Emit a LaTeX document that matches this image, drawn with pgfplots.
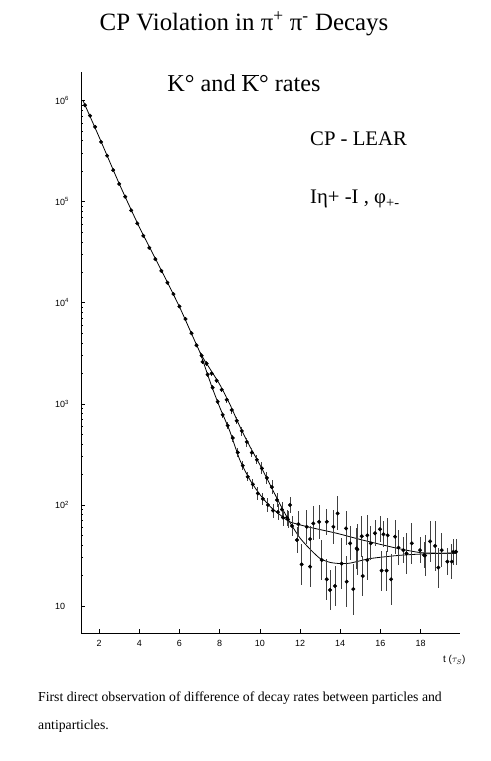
\documentclass[border=0pt]{standalone}
\usepackage{fontspec}
\setmainfont{Liberation Serif}
\newfontfamily\lsans{Liberation Sans}
\usepackage{pgfplots}
\pgfplotsset{compat=1.18}
\usepackage{pgfplotstable}

% common part, both rates overlap (t < 7)
\pgfplotstableread{
x y
1.3 9.0e5
1.55 7.1e5
1.8 5.5e5
2.1 3.9e5
2.4 2.85e5
2.7 2.05e5
3.0 1.50e5
3.3 1.12e5
3.6 8.2e4
3.9 6.1e4
4.2 4.6e4
4.5 3.5e4
4.8 2.7e4
5.1 2.07e4
5.4 1.58e4
5.7 1.22e4
6.0 9.2e3
6.3 6.9e3
6.6 5.0e3
6.85 3.8e3
}\common

% upper rate before the crossing
\pgfplotstableread{
x y ep em
7.1 3000 .05 .05
7.35 2500 .05 .05
7.6 2000 .05 .05
7.85 1700 .06 .06
8.1 1380 .06 .06
8.35 1100 .07 .07
8.6 870 .08 .08
8.85 680 .08 .08
9.1 540 .1 .1
9.35 420 .1 .1
9.6 330 .12 .1
9.85 280 .12 .1
10.1 230 .15 .13
10.35 185 .15 .13
10.6 150 .17 .15
10.85 112 .17 .15
11.1 90 .2 .17
11.35 75 .2 .17
11.6 62 .25 .2
11.85 45 .35 .26
12.08 25.8 .58 .37
12.5 24.5 .58 .37
12.5 46 .35 .26
13.08 28.5 .58 .37
13.33 18.4 .58 .37
13.49 14.4 .58 .37
13.74 15.8 .58 .37
14.07 26.3 .78 .44
14.32 17.4 .78 .44
14.65 14.7 .78 .44
14.85 36.3 .78 .44
15.12 19.8 .58 .37
15.35 28.5 .58 .37
16.06 22.4 .58 .37
16.31 22.4 .58 .37
16.53 18.4 .78 .44
17.3 33.1 .58 .37
18.22 31.6 .58 .37
18.88 24.0 .58 .37
}\rateA

% lower rate before the crossing
\pgfplotstableread{
x y ep em
7.15 2600 .05 .05
7.4 1950 .05 .05
7.65 1450 .06 .06
7.9 1050 .06 .06
8.15 780 .07 .07
8.4 610 .08 .08
8.65 460 .08 .08
8.9 330 .1 .1
9.15 245 .1 .1
9.4 190 .12 .1
9.65 160 .12 .1
9.9 130 .15 .13
10.15 115 .15 .13
10.4 100 .17 .15
10.65 88 .17 .15
10.9 85 .2 .17
11.15 75 .2 .17
11.4 72 .2 .17
11.5 100 .2 .17
11.92 64.6 .35 .26
12.33 60.8 .48 .32
12.66 65.6 .48 .32
12.95 68.1 .48 .32
13.33 68.1 .35 .26
13.66 60.8 .48 .32
13.87 82.4 .48 .32
14.29 58.6 .48 .32
14.49 41.7 .48 .32
14.82 37.2 .58 .37
15.07 49.0 .58 .37
15.35 50.1 .58 .37
15.52 41.7 .48 .32
15.73 52.5 .35 .26
15.98 57.5 .35 .26
16.15 51.3 .35 .26
16.36 50.1 .48 .32
16.73 48.5 .48 .32
16.9 37.8 .48 .32
17.14 35.7 .35 .26
17.56 41.7 .58 .37
17.97 35.7 .35 .26
18.17 31.9 .35 .26
18.47 43.6 .58 .37
18.72 39.4 .78 .44
19.05 35.7 .48 .32
19.33 27.5 .35 .26
19.55 27.5 .48 .32
19.63 34.4 .35 .26
19.76 34.4 .35 .26
}\rateB

\begin{document}
\begin{tikzpicture}
\path[use as bounding box] (0,0) rectangle (491bp,761bp);

\begin{axis}[
    at={(81bp,128bp)}, anchor=south west,
    scale only axis, width=379bp, height=561bp,
    ymode=log,
    xmin=1.1, xmax=19.96, ymin=5.41, ymax=1.92e6,
    axis x line*=bottom, axis y line*=left,
    axis line style={-, line width=0.8pt},
    xtick={2,4,...,18},
    xticklabels={2,4,6,8,10,12,14,16,18},
    ytick={10,100,1000,10000,100000,1000000},
    yticklabels={10,10\textsuperscript{2},10\textsuperscript{3},10\textsuperscript{4},10\textsuperscript{5},10\textsuperscript{6}},
    tick align=inside,
    major tick length=4bp, minor tick length=1.5bp,
    tick style={line width=0.7pt, black},
    xticklabel style={font=\lsans\fontsize{9}{10}\selectfont, yshift=-4bp},
    yticklabel style={font=\lsans\fontsize{9}{10}\selectfont, anchor=west, inner sep=0pt, xshift=-26bp},
    clip=false,
]

% fitted curves
\addplot[black, line width=0.8pt, smooth, tension=0.4] coordinates {
(1.2,1.0e6) (2,4.37e5) (3,1.51e5) (4,5.62e4) (5,2.29e4) (6,9120) (7.02,3240)
(7.5,2250) (8,1560) (8.5,1000) (9,600) (9.5,380) (10,250) (10.5,160) (11,102)
(11.5,67) (12,47) (12.5,36.5) (13,29.5) (13.5,27) (14,26.3) (14.5,26.6)
(15.5,29.5) (17,31.8) (18.5,33) (19.8,33.4)};
\addplot[black, line width=0.8pt, smooth, tension=0.4] coordinates {
(7.02,3240) (7.2,2550) (7.6,1500) (8.0,930) (8.5,540) (9.0,280) (9.5,178)
(10.0,127) (10.5,97) (11.0,80) (11.5,68) (12.5,60) (13.8,52.6) (15.1,45)
(16.8,37.4) (18.1,33.6) (19.8,33.4)};

% data points
\addplot[only marks, mark=*, mark size=1.8bp, black] table[x=x, y=y] {\common};
\addplot[only marks, mark=*, mark size=1.8bp, black,
    error bars/.cd, y dir=both, y explicit relative,
    error bar style={line width=0.8pt, black!75}, error mark=none]
    table[x=x, y=y, y error plus=ep, y error minus=em] {\rateA};
\addplot[only marks, mark=*, mark size=1.8bp, black,
    error bars/.cd, y dir=both, y explicit relative,
    error bar style={line width=0.8pt, black!75}, error mark=none]
    table[x=x, y=y, y error plus=ep, y error minus=em] {\rateB};
\end{axis}

% titles and captions
\node[anchor=base, font=\fontsize{25}{29}\selectfont] at (244bp,730bp)
  {CP Violation in π\textsuperscript{+} π\textsuperscript{-} Decays};
\node[anchor=base, font=\fontsize{24.3}{28}\selectfont] at (244bp,669bp)
  {K° and $\overline{\mbox{K}}$° rates};
\node[anchor=base west, inner sep=0pt, font=\fontsize{20.8}{24}\selectfont] at (310bp,615bp)
  {CP - LEAR};
\node[anchor=base west, inner sep=0pt, font=\fontsize{20.8}{24}\selectfont] at (310bp,557bp)
  {Iη+ -I , φ\textsubscript{+-}};
\node[anchor=base west, inner sep=0pt, font=\lsans\fontsize{10}{12}\selectfont] at (443bp,98bp)
  {t ($\tau_S$)};
\node[anchor=base west, inner sep=0pt, font=\fontsize{13.8}{16}\selectfont] at (38bp,59.5bp)
  {First direct observation of difference of decay rates between particles and};
\node[anchor=base west, inner sep=0pt, font=\fontsize{13.8}{16}\selectfont] at (38bp,31.5bp)
  {antiparticles.};
\end{tikzpicture}
\end{document}
